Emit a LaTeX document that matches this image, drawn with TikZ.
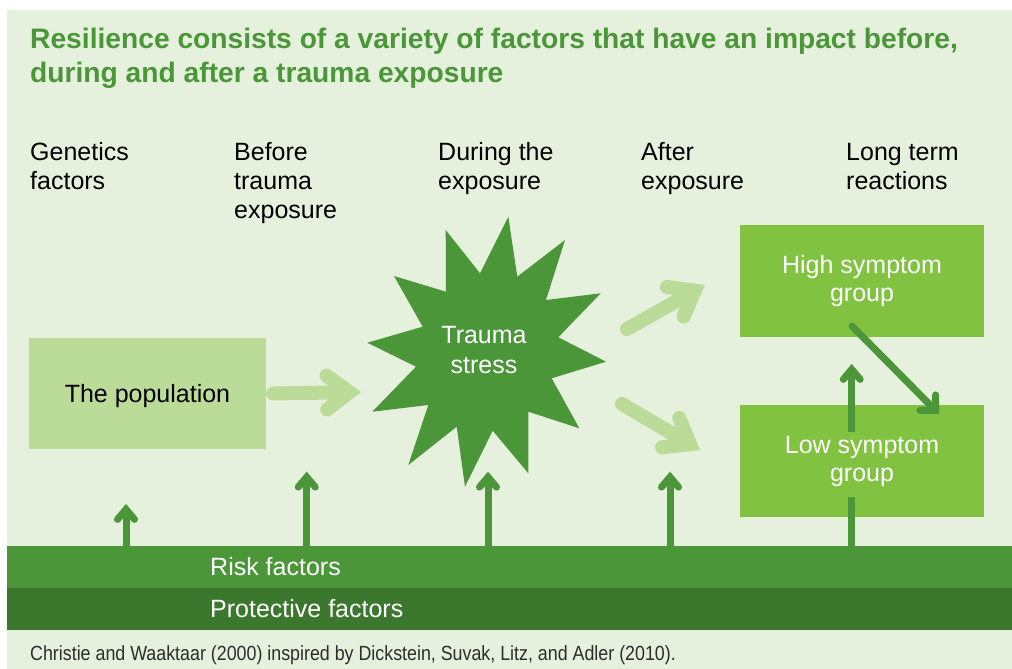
\documentclass[tikz,border=0pt]{standalone}
\usepackage{fontspec}
\setmainfont{Liberation Sans}
\newfontfamily\capfont[FakeStretch=0.87]{Liberation Sans}
\usetikzlibrary{calc}
\definecolor{bgc}{RGB}{230,241,221}
\definecolor{titlec}{RGB}{74,150,57}
\definecolor{riskc}{RGB}{74,150,57}
\definecolor{protc}{RGB}{60,119,46}
\definecolor{boxc}{RGB}{130,194,65}
\definecolor{popc}{RGB}{187,219,152}
\definecolor{capc}{RGB}{45,45,45}
\tikzset{
 lab/.style={anchor=base west, align=left, inner sep=0pt, font=\fontsize{25}{29}\selectfont, text=black},
 boxnode/.style={minimum width=244pt, minimum height=112pt, fill=boxc, text=white, align=center, inner sep=0pt, font=\fontsize{25}{28}\selectfont},
 barnode/.style={minimum width=1005pt, minimum height=42pt, inner sep=0pt, anchor=north west},
 bartext/.style={anchor=base west, inner sep=0pt, text=white, font=\fontsize{25}{29}\selectfont},
 lightshaft/.style={draw=popc, line width=14pt, line cap=round},
 lighthead/.style={draw=popc, line width=14pt, line cap=round, line join=miter},
 darkshaft/.style={draw=riskc, line width=7pt, line cap=butt},
 darkround/.style={draw=riskc, line width=7pt, line cap=round},
 darkhead/.style={draw=riskc, line width=7pt, line cap=round, line join=miter},
}
\newcommand\fatarrow[7]{%
  \coordinate (fav) at ($(#4)!#5!(#3)$);
  \coordinate (fam) at ($(fav)!#6!(#3)$);
  \draw[#1] (#3) -- (fav);
  \draw[#2] ($(fam)!#7!90:(fav)$) -- (fav) -- ($(fam)!#7!-90:(fav)$);
}
\begin{document}
\begin{tikzpicture}[x=1pt,y=-1pt]
\useasboundingbox (0,0) rectangle (1012,669);
\fill[white] (0,0) rectangle (1012,669);
\fill[bgc] (7,10) rectangle (1012,669);

% title (base anchor = baseline of the last line)
\node[anchor=base west, align=left, inner sep=0pt, text=titlec, font=\fontsize{28.2}{34}\selectfont\bfseries] (title) at (30,82.3)
  {Resilience consists of a variety of factors that have an impact before,\\during and after a trauma exposure};

% column labels
\node[lab] (l1) at (30,189) {Genetics\\factors};
\node[lab] (l2) at (234,218) {Before\\trauma\\exposure};
\node[lab] (l3) at (438,189) {During the\\exposure};
\node[lab] (l4) at (641,189) {After\\exposure};
\node[lab] (l5) at (846,189) {Long term\\reactions};

% bars
\node[barnode, fill=riskc] (risk) at (7,546) {};
\node[barnode, fill=protc] (prot) at (7,588) {};
\node[bartext] (risktxt) at (210,575) {Risk factors};
\node[bartext] (prottxt) at (210,617) {Protective factors};

% population
\node[minimum width=237pt, minimum height=111pt, fill=popc, inner sep=0pt, text height=18.4pt, text depth=0pt, font=\fontsize{25}{29}\selectfont] (pop) at (147.5,393.5) {The population};

% star
\fill[riskc] (508.3,216.7) -- (517.3,276.7) -- (565,240) -- (546,300) -- (600.7,293.3) -- (558.3,337.3)
  -- (606,361.7) -- (551.7,378.3) -- (579.3,428.3) -- (528.3,411.7) -- (528.3,473.3) -- (492.7,430.7)
  -- (465,486.7) -- (456.7,426.7) -- (408.3,465) -- (428.3,405) -- (372.3,411.7) -- (416,366.7)
  -- (367.3,342.7) -- (422.7,326.7) -- (394,276) -- (446,291.7) -- (445.7,230) -- (480,273.3) -- cycle;
\node[align=center, inner sep=0pt, text=white, font=\fontsize{25}{30}\selectfont] (trauma) at (484,350) {Trauma\\stress};

% outcome boxes
\node[boxnode] (high) at (862,281) {High symptom\\group};
\node[boxnode] (low) at (862,461) {Low symptom\\group};

% light arrows
\coordinate (pa) at ([xshift=7pt]pop.east);
\coordinate (pb) at (361,392);
\fatarrow{lightshaft}{lighthead}{pa}{pb}{11.6pt}{22.5pt}{17pt}
\coordinate (ha) at (627,329);
\coordinate (hb) at (705,285);
\fatarrow{lightshaft}{lighthead}{ha}{hb}{11.6pt}{22.5pt}{17pt}
\coordinate (la) at (622,404);
\coordinate (lb) at (700,450);
\fatarrow{lightshaft}{lighthead}{la}{lb}{11.6pt}{22.5pt}{17pt}

% dark upward arrows from the risk bar
\coordinate (t1) at (126,504);
\coordinate (t2) at (306.7,471.7);
\coordinate (t3) at (488,471.7);
\coordinate (t4) at (670,471.7);
\coordinate (s1) at (t1 |- risk.north);
\coordinate (s2) at (t2 |- risk.north);
\coordinate (s3) at (t3 |- risk.north);
\coordinate (s4) at (t4 |- risk.north);
\fatarrow{darkshaft}{darkhead}{s1}{t1}{5.4pt}{10pt}{8.5pt}
\fatarrow{darkshaft}{darkhead}{s2}{t2}{5.4pt}{10pt}{8.5pt}
\fatarrow{darkshaft}{darkhead}{s3}{t3}{5.4pt}{10pt}{8.5pt}
\fatarrow{darkshaft}{darkhead}{s4}{t4}{5.4pt}{10pt}{8.5pt}

% bar into low box
\coordinate (s5) at (851.7,546);
\coordinate (e5) at (851.7,497);
\draw[darkshaft] (s5) -- (e5);
% low -> high
\coordinate (s6) at (851.7,432);
\coordinate (t6) at (851.7,364);
\fatarrow{darkshaft}{darkhead}{s6}{t6}{5.4pt}{10pt}{8.5pt}
% high -> low diagonal
\coordinate (s7) at (852,326);
\coordinate (t7) at (939,414);
\fatarrow{darkround}{darkhead}{s7}{t7}{4.95pt}{11pt}{11pt}

% caption
\node[anchor=base west, inner sep=0pt, text=capc, font=\fontsize{20.5}{24}\capfont] (cap) at (30,660)
  {Christie and Waaktaar (2000) inspired by Dickstein, Suvak, Litz, and Adler (2010).};
\end{tikzpicture}
\end{document}
